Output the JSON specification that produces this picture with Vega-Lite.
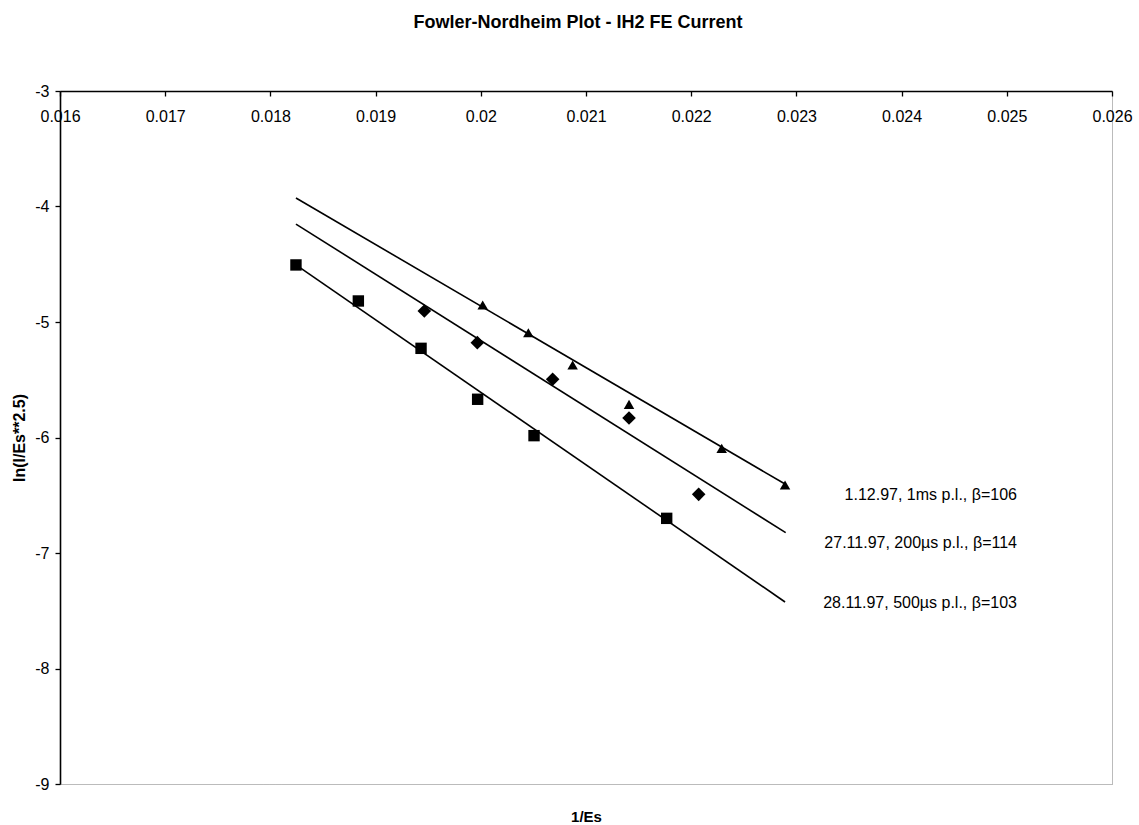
{
  "$schema": "https://vega.github.io/schema/vega-lite/v6.json",
  "width": 1052,
  "height": 693,
  "autosize": "none",
  "padding": {"left": 60, "top": 91, "right": 27, "bottom": 41},
  "background": "white",
  "title": {
    "text": "Fowler-Nordheim Plot - IH2 FE Current",
    "font": "Liberation Sans",
    "fontSize": 18,
    "fontWeight": "bold",
    "color": "black",
    "anchor": "middle",
    "frame": "group",
    "offset": 51,
    "dx": -8
  },
  "config": {
    "view": {"stroke": "#777", "strokeDash": [1, 1], "strokeWidth": 1},
    "axis": {
      "labelFont": "Liberation Sans",
      "labelFontSize": 16,
      "labelColor": "black",
      "titleFont": "Liberation Sans",
      "titleFontSize": 15,
      "titleFontWeight": "bold",
      "titleColor": "black",
      "domainColor": "black",
      "domainWidth": 1.6,
      "tickColor": "black",
      "tickWidth": 1.3,
      "tickSize": 5,
      "grid": false,
      "labelOverlap": false,
      "labelFlush": false,
      "labelBound": false
    }
  },
  "datasets": {
    "points": [
      {"series": "28.11.97", "x": 0.018243, "y": -4.506},
      {"series": "28.11.97", "x": 0.018836, "y": -4.818},
      {"series": "28.11.97", "x": 0.019432, "y": -5.228},
      {"series": "28.11.97", "x": 0.019970, "y": -5.669},
      {"series": "28.11.97", "x": 0.020506, "y": -5.984},
      {"series": "28.11.97", "x": 0.021767, "y": -6.700},
      {"series": "27.11.97", "x": 0.019463, "y": -4.905},
      {"series": "27.11.97", "x": 0.019967, "y": -5.179},
      {"series": "27.11.97", "x": 0.020683, "y": -5.496},
      {"series": "27.11.97", "x": 0.021409, "y": -5.831},
      {"series": "27.11.97", "x": 0.022071, "y": -6.492},
      {"series": "1.12.97", "x": 0.020018, "y": -4.853},
      {"series": "1.12.97", "x": 0.020452, "y": -5.093},
      {"series": "1.12.97", "x": 0.020873, "y": -5.372},
      {"series": "1.12.97", "x": 0.021409, "y": -5.713},
      {"series": "1.12.97", "x": 0.022290, "y": -6.094},
      {"series": "1.12.97", "x": 0.022892, "y": -6.411}
    ],
    "fits": [
      {"series": "1.12.97", "x": 0.018243, "y": -3.926},
      {"series": "1.12.97", "x": 0.022892, "y": -6.403},
      {"series": "27.11.97", "x": 0.018243, "y": -4.152},
      {"series": "27.11.97", "x": 0.022898, "y": -6.824},
      {"series": "28.11.97", "x": 0.018243, "y": -4.506},
      {"series": "28.11.97", "x": 0.022892, "y": -7.424}
    ],
    "labels": [
      {"label": "1.12.97, 1ms p.l., β=106", "x": 0.025097, "y": -6.498},
      {"label": "27.11.97, 200µs p.l., β=114", "x": 0.025097, "y": -6.913},
      {"label": "28.11.97, 500µs p.l., β=103", "x": 0.025097, "y": -7.433}
    ]
  },
  "layer": [
    {
      "data": {"name": "fits"},
      "mark": {"type": "line", "color": "black", "strokeWidth": 1.6},
      "encoding": {
        "x": {
          "field": "x", "type": "quantitative",
          "scale": {"domain": [0.016, 0.026], "nice": false, "zero": false},
          "axis": {
            "orient": "bottom",
            "offset": -693,
            "values": [0.016, 0.017, 0.018, 0.019, 0.02, 0.021, 0.022, 0.023, 0.024, 0.025, 0.026],
            "format": "~g",
            "labelPadding": 12,
            "title": "1/Es",
            "titleY": 718
          }
        },
        "y": {
          "field": "y", "type": "quantitative",
          "scale": {"domain": [-9, -3], "nice": false, "zero": false},
          "axis": {
            "values": [-3, -4, -5, -6, -7, -8, -9],
            "labelExpr": "toString(datum.value)",
            "labelPadding": 6,
            "title": "ln(I/Es**2.5)",
            "titleFontSize": 16,
            "titleX": -33,
            "titleBaseline": "bottom"
          }
        },
        "detail": {"field": "series"}
      }
    },
    {
      "data": {"name": "points"},
      "mark": {"type": "point", "filled": true, "color": "black", "opacity": 1},
      "encoding": {
        "x": {"field": "x", "type": "quantitative"},
        "y": {"field": "y", "type": "quantitative"},
        "shape": {
          "field": "series", "type": "nominal",
          "scale": {"domain": ["1.12.97", "27.11.97", "28.11.97"], "range": ["triangle-up", "diamond", "square"]},
          "legend": null
        },
        "size": {
          "field": "series", "type": "nominal",
          "scale": {"type": "ordinal", "domain": ["1.12.97", "27.11.97", "28.11.97"], "range": [110, 185, 130]},
          "legend": null
        }
      }
    },
    {
      "data": {"name": "labels"},
      "mark": {"type": "text", "align": "right", "baseline": "middle", "font": "Liberation Sans", "fontSize": 16, "color": "black"},
      "encoding": {
        "x": {"field": "x", "type": "quantitative"},
        "y": {"field": "y", "type": "quantitative"},
        "text": {"field": "label"}
      }
    }
  ]
}
